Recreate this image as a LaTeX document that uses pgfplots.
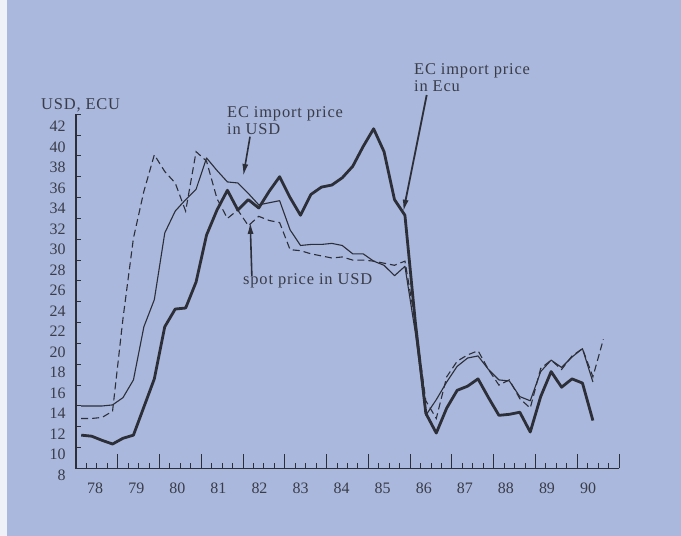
\documentclass[border=0pt]{standalone}
\usepackage{pgfplots}
\pgfplotsset{compat=1.18}
\usetikzlibrary{arrows.meta}
\usepackage{fontspec}
\setmainfont{Liberation Serif}
\newfontfamily\annfont[LetterSpace=5]{Liberation Serif}
\definecolor{bg}{RGB}{169,184,220}
\definecolor{ink}{RGB}{44,46,56}
\definecolor{txt}{RGB}{58,60,72}
\begin{document}
\begin{tikzpicture}[x=1bp,y=1bp]
\fill[bg] (0,0) rectangle (681,536);
\fill[white!80!bg] (0,0) rectangle (7,536);
\begin{axis}[
  at={(76bp,67.5bp)}, anchor=south west,
  scale only axis, width=543bp, height=354.3bp,
  xmin=78, xmax=91, ymin=8, ymax=42,
  axis x line=bottom, axis y line=left,
  axis line style={-, line width=1.5bp, draw=ink},
  tick align=inside,
  xtick={78,79,80,81,82,83,84,85,86,87,88,89,90,91},
  xticklabels={78,79,80,81,82,83,84,85,86,87,88,89,90,{}},
  minor x tick num=3,
  ytick={8,10,...,42},
  xtick style={draw=ink, line width=1bp, /pgfplots/major tick length=14bp, /pgfplots/minor tick length=5bp},
  ytick style={draw=ink, line width=1bp, /pgfplots/major tick length=5bp},
  /pgf/number format/assume math mode=true,
  tick label style={font=\fontsize{16}{16}\selectfont, text=txt},
  xticklabel style={yshift=-11bp, xshift={(19.2-0.7*\ticknum)*1bp}},
  yticklabel style={xshift=-7bp, yshift={-(6.5+0.34*\ticknum)*1bp}},
  clip=false,
]
% EC import price in Ecu (thick)
\addplot[ink, line width=2.8bp, line join=round] table {
78.125 11.2
78.375 11.1
78.625 10.7
78.875 10.35
79.125 10.9
79.375 11.2
79.625 13.9
79.875 16.6
80.125 21.6
80.375 23.3
80.625 23.4
80.875 25.9
81.125 30.4
81.375 32.8
81.625 34.7
81.875 32.8
82.125 33.8
82.375 33.0
82.625 34.6
82.875 36.0
83.125 34.0
83.375 32.3
83.625 34.3
83.875 35.0
84.125 35.2
84.375 35.9
84.625 37.0
84.875 38.9
85.125 40.6
85.375 38.4
85.625 33.8
85.875 32.3
86.125 22.0
86.375 13.3
86.625 11.4
86.875 13.8
87.125 15.5
87.375 15.9
87.625 16.6
87.875 14.8
88.125 13.1
88.375 13.2
88.625 13.4
88.875 11.5
89.125 14.9
89.375 17.3
89.625 15.8
89.875 16.6
90.125 16.2
90.375 12.6
};
% EC import price in USD (thin)
\addplot[ink, line width=1.1bp, line join=round] table {
78.125 14.0
78.375 14.0
78.625 14.0
78.875 14.1
79.125 14.8
79.375 16.5
79.625 21.6
79.875 24.2
80.125 30.6
80.375 32.7
80.625 33.8
80.875 34.8
81.125 37.8
81.375 36.6
81.625 35.5
81.875 35.4
82.125 34.4
82.375 33.3
82.625 33.5
82.875 33.7
83.125 30.9
83.375 29.4
83.625 29.5
83.875 29.5
84.125 29.6
84.375 29.4
84.625 28.6
84.875 28.6
85.125 27.9
85.375 27.5
85.625 26.5
85.875 27.4
86.125 21.0
86.375 13.1
86.625 14.6
86.875 16.3
87.125 17.8
87.375 18.6
87.625 18.8
87.875 17.5
88.125 16.5
88.375 16.4
88.625 14.9
88.875 14.5
89.125 17.3
89.375 18.4
89.625 17.7
89.875 18.7
90.125 19.5
90.375 16.3
};
% spot price in USD (dashed)
\addplot[ink, line width=1.1bp, dash pattern=on 7bp off 4bp] table {
78.125 12.8
78.375 12.8
78.625 12.9
78.875 13.5
79.125 22.4
79.375 30.1
79.625 34.6
79.875 38.1
80.125 36.5
80.375 35.4
80.625 32.7
80.875 38.4
81.125 37.5
81.375 33.9
81.625 32.0
81.875 32.8
82.125 31.3
82.375 32.2
82.625 31.8
82.875 31.6
83.125 29.0
83.375 28.9
83.625 28.6
83.875 28.4
84.125 28.2
84.375 28.3
84.625 28.0
84.875 28.0
85.125 27.9
85.375 27.7
85.625 27.5
85.875 27.9
86.125 22.0
86.375 14.5
86.625 12.8
86.875 16.8
87.125 18.3
87.375 18.9
87.625 19.3
87.875 17.5
88.125 16.0
88.375 16.5
88.625 14.7
88.875 13.8
89.125 17.6
89.375 18.4
89.625 17.5
89.875 18.8
90.125 19.5
90.375 16.8
90.625 20.4
};
\draw[ink, line width=1.5bp] (axis cs:78,42) -- (axis cs:78,8) -- (axis cs:91,8);
\draw[ink, line width=1.6bp, -{Latex[length=12bp,width=6bp]}] (axis cs:82.166,39.84) -- (axis cs:82.005,36.07);
\draw[ink, line width=1.6bp, -{Latex[length=12bp,width=6bp]}] (axis cs:82.21,26.47) -- (axis cs:82.17,31.66);
\draw[ink, line width=1.8bp, -{Latex[length=12bp,width=6bp]}] (axis cs:86.396,43.84) -- (axis cs:85.836,32.64);
\end{axis}
\begin{scope}[every node/.style={inner sep=0pt, text=txt, font=\fontsize{16.5}{17}\annfont}]
\node[anchor=base west] at (41,426) {USD, ECU};
\node[anchor=base west] at (227,418) {EC import price};
\node[anchor=base west] at (227,401) {in USD};
\node[anchor=base west] at (414,461) {EC import price};
\node[anchor=base west] at (414,444) {in Ecu};
\node[anchor=base west] at (243,251) {spot price in USD};
\end{scope}
\end{tikzpicture}
\end{document}
